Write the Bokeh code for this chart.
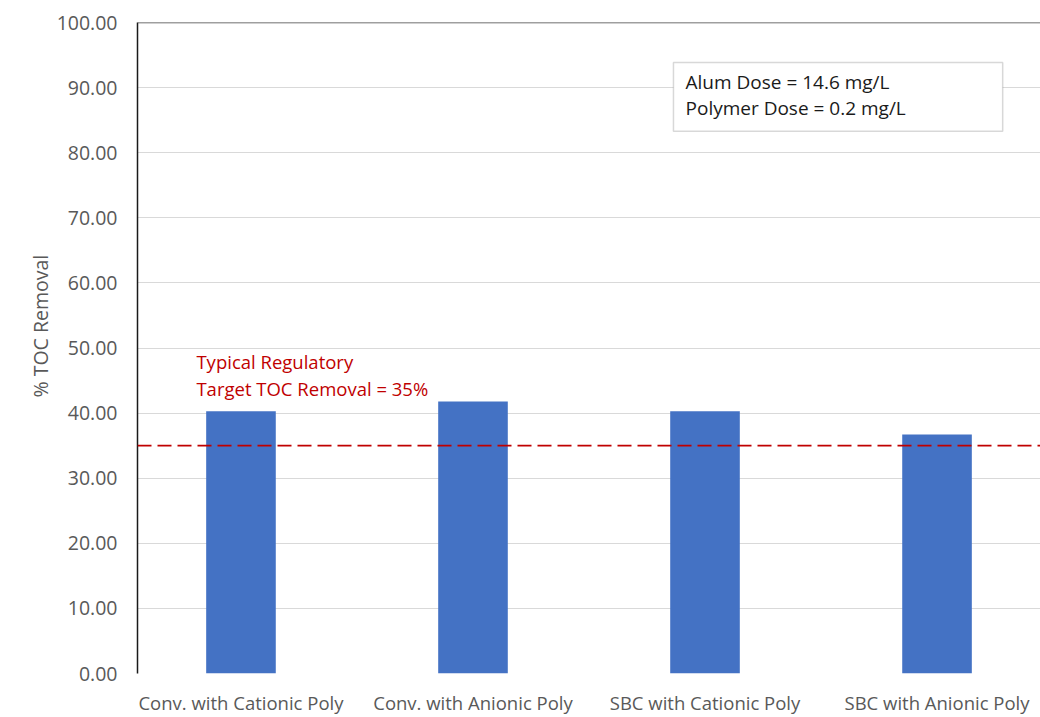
from bokeh.plotting import figure
from bokeh.models import Range1d, FixedTicker, Span, Label, BoxAnnotation, NumeralTickFormatter, Title
from bokeh.embed import file_html
from bokeh.resources import INLINE

# Treatment scenarios and their TOC removal (%)
categories = ["Conv. with Cationic Poly", "Conv. with Anionic Poly",
              "SBC with Cationic Poly", "SBC with Anionic Poly"]
toc_removal = [40.3, 41.8, 40.3, 36.7]
regulatory_target = 35
y_ticks = [0, 10, 20, 30, 40, 50, 60, 70, 80, 90, 100]
dose_lines = ["Alum Dose = 14.6 mg/L", "Polymer Dose = 0.2 mg/L"]
target_lines = ["Typical Regulatory", "Target TOC Removal = 35%"]

FONT = "Open Sans"
GRAY = "#595959"
BLUE = "#4472C4"
RED = "#C00000"

positions = list(range(len(categories)))
x_lo, x_hi = -0.446, len(categories) - 1 + 0.446

p = figure(width=1040, height=717, output_backend="svg", toolbar_location=None,
           x_range=Range1d(x_lo, x_hi), y_range=Range1d(0, 100),
           min_border_left=137, min_border_right=0, min_border_top=22, min_border_bottom=44)
p.outline_line_color = None
p.background_fill_color = "white"
p.border_fill_color = "white"

p.vbar(x=positions, top=toc_removal, width=0.3, fill_color=BLUE, line_color=None)

# y axis
p.yaxis.ticker = FixedTicker(ticks=y_ticks)
p.yaxis.formatter = NumeralTickFormatter(format="0.00")
p.yaxis.major_label_text_font = FONT
p.yaxis.major_label_text_font_size = "19.5px"
p.yaxis.major_label_text_color = GRAY
p.yaxis.major_label_standoff = 20
p.yaxis.major_tick_in = 0
p.yaxis.major_tick_out = 0
p.yaxis.minor_tick_in = 0
p.yaxis.minor_tick_out = 0
p.yaxis.axis_line_color = "#1a1a1a"
p.yaxis.axis_line_width = 1.5

# y axis title, sitting a little above the middle of the axis
p.add_layout(Title(text="% TOC Removal", align="left", offset=276, standoff=0,
                   text_font=FONT, text_font_size="19.5px", text_font_style="normal",
                   text_color=GRAY), "left")

# x axis with category names
p.xaxis.ticker = FixedTicker(ticks=positions)
p.xaxis.major_label_overrides = {i: c for i, c in zip(positions, categories)}
p.xaxis.major_label_text_font = FONT
p.xaxis.major_label_text_font_size = "18.5px"
p.xaxis.major_label_text_color = GRAY
p.xaxis.major_label_standoff = 16
p.xaxis.major_tick_in = 0
p.xaxis.major_tick_out = 0
p.xaxis.minor_tick_in = 0
p.xaxis.minor_tick_out = 0
p.xaxis.axis_line_color = None

p.xgrid.grid_line_color = None
p.ygrid.ticker = FixedTicker(ticks=y_ticks)
p.ygrid.grid_line_color = "#D9D9D9"
p.ygrid.grid_line_width = 1

# top border of the plot area
p.add_layout(Span(location=100, dimension="width", line_color="#404040", line_width=1.5))

# regulatory target line and its note
p.add_layout(Span(location=regulatory_target, dimension="width", line_color=RED,
                  line_width=1.6, line_dash="14 6"))
for i, txt in enumerate(target_lines):
    p.add_layout(Label(x=-0.192, y=47.9 - 4.1 * i, text=txt, text_font=FONT,
                       text_font_size="18.5px", text_color=RED, text_baseline="middle"))

# dose box
p.add_layout(BoxAnnotation(left=1.864, right=3.283, bottom=83.3, top=93.85,
                           fill_color="white", fill_alpha=1.0,
                           line_color="#7f7f7f", line_width=1.5))
for i, txt in enumerate(dose_lines):
    p.add_layout(Label(x=1.916, y=90.9 - 4.0 * i, text=txt, text_font=FONT,
                       text_font_size="19px", text_color="#1a1a1a", text_baseline="middle"))

open("out.html", "w").write(file_html(p, INLINE))
